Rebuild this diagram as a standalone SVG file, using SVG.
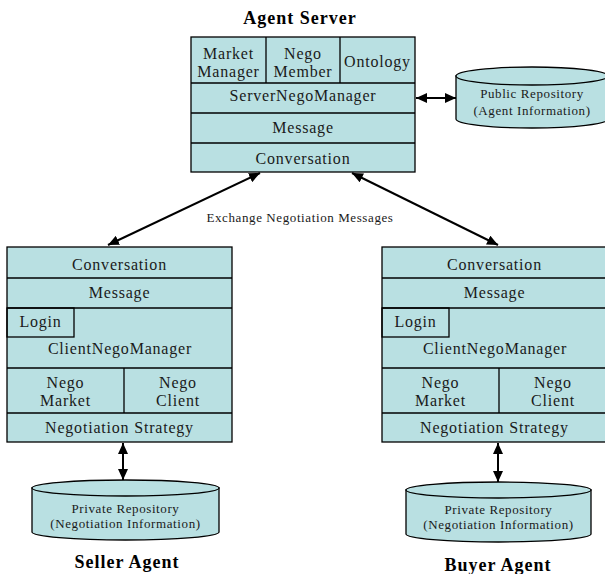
<svg xmlns="http://www.w3.org/2000/svg" width="605" height="574" viewBox="0 0 605 574">
  <style>
    .box { fill: #B9E0E2; stroke: #000; stroke-width: 1.3; }
    .cell { fill: none; stroke: #000; stroke-width: 1.3; }
    .t { font-family: "Liberation Serif", "Times New Roman", serif; font-size: 16px; letter-spacing: 0.8px; fill: #1a1a1a; text-anchor: middle; }
    .s { font-family: "Liberation Serif", "Times New Roman", serif; font-size: 13px; letter-spacing: 0.6px; fill: #1a1a1a; text-anchor: middle; }
    .title { font-family: "Liberation Serif", "Times New Roman", serif; font-size: 18px; font-weight: bold; letter-spacing: 1px; fill: #000; text-anchor: middle; }
    .link { stroke: #000; stroke-width: 2; fill: none; marker-start: url(#head); marker-end: url(#head); }
  </style>
  <defs>
    <marker id="head" markerUnits="userSpaceOnUse" markerWidth="12" markerHeight="10" refX="11" refY="5" orient="auto-start-reverse">
      <path d="M0,0 L11,5 L0,10 z" fill="#000"/>
    </marker>
  </defs>

  <!-- Agent server stack -->
  <g id="agent-server">
    <text class="title" x="300" y="24">Agent Server</text>
    <rect class="box" x="191" y="37" width="224" height="135"/>
    <line class="cell" x1="191" y1="83" x2="415" y2="83"/>
    <line class="cell" x1="191" y1="113" x2="415" y2="113"/>
    <line class="cell" x1="191" y1="143" x2="415" y2="143"/>
    <line class="cell" x1="266" y1="37" x2="266" y2="83"/>
    <line class="cell" x1="340" y1="37" x2="340" y2="83"/>
    <text class="t" x="228.5" y="59">Market</text>
    <text class="t" x="228.5" y="77">Manager</text>
    <text class="t" x="303" y="59">Nego</text>
    <text class="t" x="303" y="77">Member</text>
    <text class="t" x="377.5" y="67">Ontology</text>
    <text class="t" x="303" y="101">ServerNegoManager</text>
    <text class="t" x="303" y="133">Message</text>
    <text class="t" x="303" y="164">Conversation</text>
  </g>

  <!-- Public repository -->
  <g id="public-repository">
    <path class="box" d="M456,76 L456,119 A76,9 0 0 0 608,119 L608,76 Z"/>
    <ellipse class="box" cx="532" cy="76" rx="76" ry="9"/>
    <text class="s" x="532" y="98">Public Repository</text>
    <text class="s" x="532" y="115">(Agent Information)</text>
  </g>

  <!-- Seller agent stack -->
  <g id="seller-agent">
    <rect class="box" x="7" y="247" width="225" height="195"/>
    <line class="cell" x1="7" y1="278" x2="232" y2="278"/>
    <line class="cell" x1="7" y1="308" x2="232" y2="308"/>
    <line class="cell" x1="7" y1="368" x2="232" y2="368"/>
    <line class="cell" x1="7" y1="413" x2="232" y2="413"/>
    <rect class="cell" x="7" y="308" width="67" height="29"/>
    <line class="cell" x1="124" y1="368" x2="124" y2="413"/>
    <text class="t" x="119.5" y="270">Conversation</text>
    <text class="t" x="119.5" y="298">Message</text>
    <text class="t" x="40.5" y="327">Login</text>
    <text class="t" x="120" y="354">ClientNegoManager</text>
    <text class="t" x="65.5" y="388">Nego</text>
    <text class="t" x="65.5" y="406">Market</text>
    <text class="t" x="178" y="388">Nego</text>
    <text class="t" x="178" y="406">Client</text>
    <text class="t" x="119.5" y="433">Negotiation Strategy</text>
    <text class="title" x="127" y="568">Seller Agent</text>
  </g>

  <!-- Seller private repository -->
  <g id="seller-repository">
    <path class="box" d="M32,488 L32,532 A93.5,8 0 0 0 219,532 L219,488 Z"/>
    <ellipse class="box" cx="125.5" cy="488" rx="93.5" ry="8"/>
    <text class="s" x="125.5" y="513">Private Repository</text>
    <text class="s" x="125.5" y="528">(Negotiation Information)</text>
  </g>

  <!-- Buyer agent stack -->
  <g id="buyer-agent">
    <rect class="box" x="382" y="247" width="225" height="195"/>
    <line class="cell" x1="382" y1="278" x2="607" y2="278"/>
    <line class="cell" x1="382" y1="308" x2="607" y2="308"/>
    <line class="cell" x1="382" y1="368" x2="607" y2="368"/>
    <line class="cell" x1="382" y1="413" x2="607" y2="413"/>
    <rect class="cell" x="382" y="308" width="67" height="29"/>
    <line class="cell" x1="499" y1="368" x2="499" y2="413"/>
    <text class="t" x="494.5" y="270">Conversation</text>
    <text class="t" x="494.5" y="298">Message</text>
    <text class="t" x="415.5" y="327">Login</text>
    <text class="t" x="495" y="354">ClientNegoManager</text>
    <text class="t" x="440.5" y="388">Nego</text>
    <text class="t" x="440.5" y="406">Market</text>
    <text class="t" x="553" y="388">Nego</text>
    <text class="t" x="553" y="406">Client</text>
    <text class="t" x="494.5" y="433">Negotiation Strategy</text>
    <text class="title" x="498" y="571">Buyer Agent</text>
  </g>

  <!-- Buyer private repository -->
  <g id="buyer-repository">
    <path class="box" d="M406,490 L406,534 A92.5,8 0 0 0 591,534 L591,490 Z"/>
    <ellipse class="box" cx="498.5" cy="490" rx="92.5" ry="8"/>
    <text class="s" x="498.5" y="514">Private Repository</text>
    <text class="s" x="498.5" y="529">(Negotiation Information)</text>
  </g>

  <!-- Connectors -->
  <g id="connectors">
    <line class="link" x1="260" y1="173" x2="108" y2="245"/>
    <line class="link" x1="352" y1="173" x2="498" y2="245"/>
    <line class="link" x1="416" y1="98" x2="456" y2="98"/>
    <line class="link" x1="123" y1="443" x2="123" y2="480"/>
    <line class="link" x1="498" y1="443" x2="498" y2="482"/>
    <text class="s" x="300" y="222">Exchange Negotiation Messages</text>
  </g>
</svg>
